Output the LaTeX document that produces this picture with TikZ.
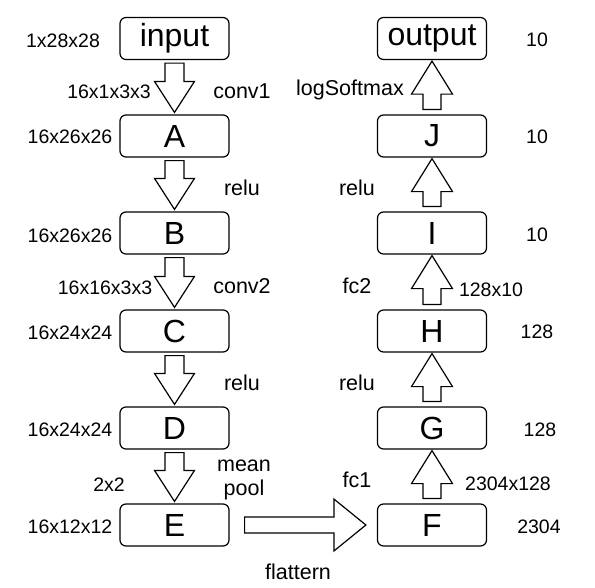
\documentclass[tikz,border=0pt]{standalone}
\usepackage{fontspec}
\setmainfont{Liberation Sans}
\usetikzlibrary{positioning,calc}
\newcommand{\downarr}[2]{\draw[line width=1.2pt] let \p1=(#1.south), \p2=(#2.north) in (\x1-9.5pt,\y1-3pt) -- (\x1-9.5pt,\y2+33pt) -- (\x1-20pt,\y2+33pt) -- (\x1,\y2+2pt) -- (\x1+20pt,\y2+33pt) -- (\x1+9.5pt,\y2+33pt) -- (\x1+9.5pt,\y1-3pt) -- cycle;}
\newcommand{\uparr}[2]{\draw[line width=1.2pt] let \p1=(#1.north), \p2=(#2.south) in (\x1-9pt,\y1+5pt) -- (\x1-9pt,\y2-34pt) -- (\x1-20.5pt,\y2-34pt) -- (\x1,\y2-1pt) -- (\x1+20.5pt,\y2-34pt) -- (\x1+9pt,\y2-34pt) -- (\x1+9pt,\y1+5pt) -- cycle;}

\begin{document}
\begin{tikzpicture}[x=1pt,y=-1pt]
			\tikzstyle{layer}=[draw, line width=1.2pt, rounded corners=6pt, minimum width=109pt, minimum height=42pt, inner sep=0pt, font=\fontsize{32}{36}\selectfont]
			\tikzstyle{lbl}=[inner sep=0pt, font=\fontsize{21.5}{25}\selectfont]
			\tikzstyle{num}=[inner sep=0pt, font=\fontsize{19.5}{23}\selectfont]
			\useasboundingbox (0,0) rectangle (595,587);
			% left column
			\node [layer] (input) at (174.5,38.5) {input};
			\node [layer] (A) at (174.5,136) {A};
			\node [layer] (B) at (174.5,233) {B};
			\node [layer] (C) at (174.5,331) {C};
			\node [layer] (D) at (174.5,428) {D};
			\node [layer] (E) at (174.5,525) {E};
			% right column
			\node [layer] (output) at (432,38.5) {output};
			\node [layer] (J) at (432,136) {J};
			\node [layer] (I) at (432,233) {I};
			\node [layer] (H) at (432,331) {H};
			\node [layer] (G) at (432,428) {G};
			\node [layer] (F) at (432,525) {F};
			% block arrows
			\downarr{input}{A}
			\downarr{A}{B}
			\downarr{B}{C}
			\downarr{C}{D}
			\downarr{D}{E}
			\uparr{F}{G}
			\uparr{G}{H}
			\uparr{H}{I}
			\uparr{I}{J}
			\uparr{J}{output}
			\draw[line width=1.2pt] let \p1=(E.east), \p2=(F.west) in (\x1+15pt,\y1-8pt) -- (\x2-43pt,\y1-8pt) -- (\x2-43pt,\y1-26pt) -- (\x2-11pt,\y1) -- (\x2-43pt,\y1+26pt) -- (\x2-43pt,\y1+8pt) -- (\x1+15pt,\y1+8pt) -- cycle;
			% sizes and layer names
			\node [num] (sin) at (63,41) {1x28x28};
			\node [num] (wa) at (109,92) {16x1x3x3};
			\node [lbl] (na) at (242,91) {conv1};
			\node [num] (sa) at (70,137) {16x26x26};
			\node [lbl] (nb) at (242,188) {relu};
			\node [num] (sb) at (70,236) {16x26x26};
			\node [num] (wc) at (105,288) {16x16x3x3};
			\node [lbl] (nc) at (242,286) {conv2};
			\node [num] (sc) at (70,333) {16x24x24};
			\node [lbl] (nd) at (242,383) {relu};
			\node [num] (sd) at (70,430) {16x24x24};
			\node [num] (we) at (109,485) {2x2};
			\node [lbl, align=center] (ne) at (244,480) {mean\\[-1pt]pool};
			\node [num] (se) at (70,527) {16x12x12};
			\node [lbl] (nf) at (298,572) {flattern};
			\node [num] (sf) at (539,527) {2304};
			\node [lbl] (ng) at (357,480) {fc1};
			\node [num] (wg) at (508,484) {2304x128};
			\node [num] (sg) at (540,430) {128};
			\node [lbl] (nh) at (357,383) {relu};
			\node [num] (sh) at (537,332) {128};
			\node [lbl] (ni) at (357,286) {fc2};
			\node [num] (wi) at (491,290) {128x10};
			\node [num] (si) at (537,235) {10};
			\node [lbl] (nj) at (357,188) {relu};
			\node [num] (sj) at (537,137) {10};
			\node [lbl] (nout) at (350,90) {logSoftmax};
			\node [num] (sout) at (537,40) {10};
\end{tikzpicture}
\end{document}
